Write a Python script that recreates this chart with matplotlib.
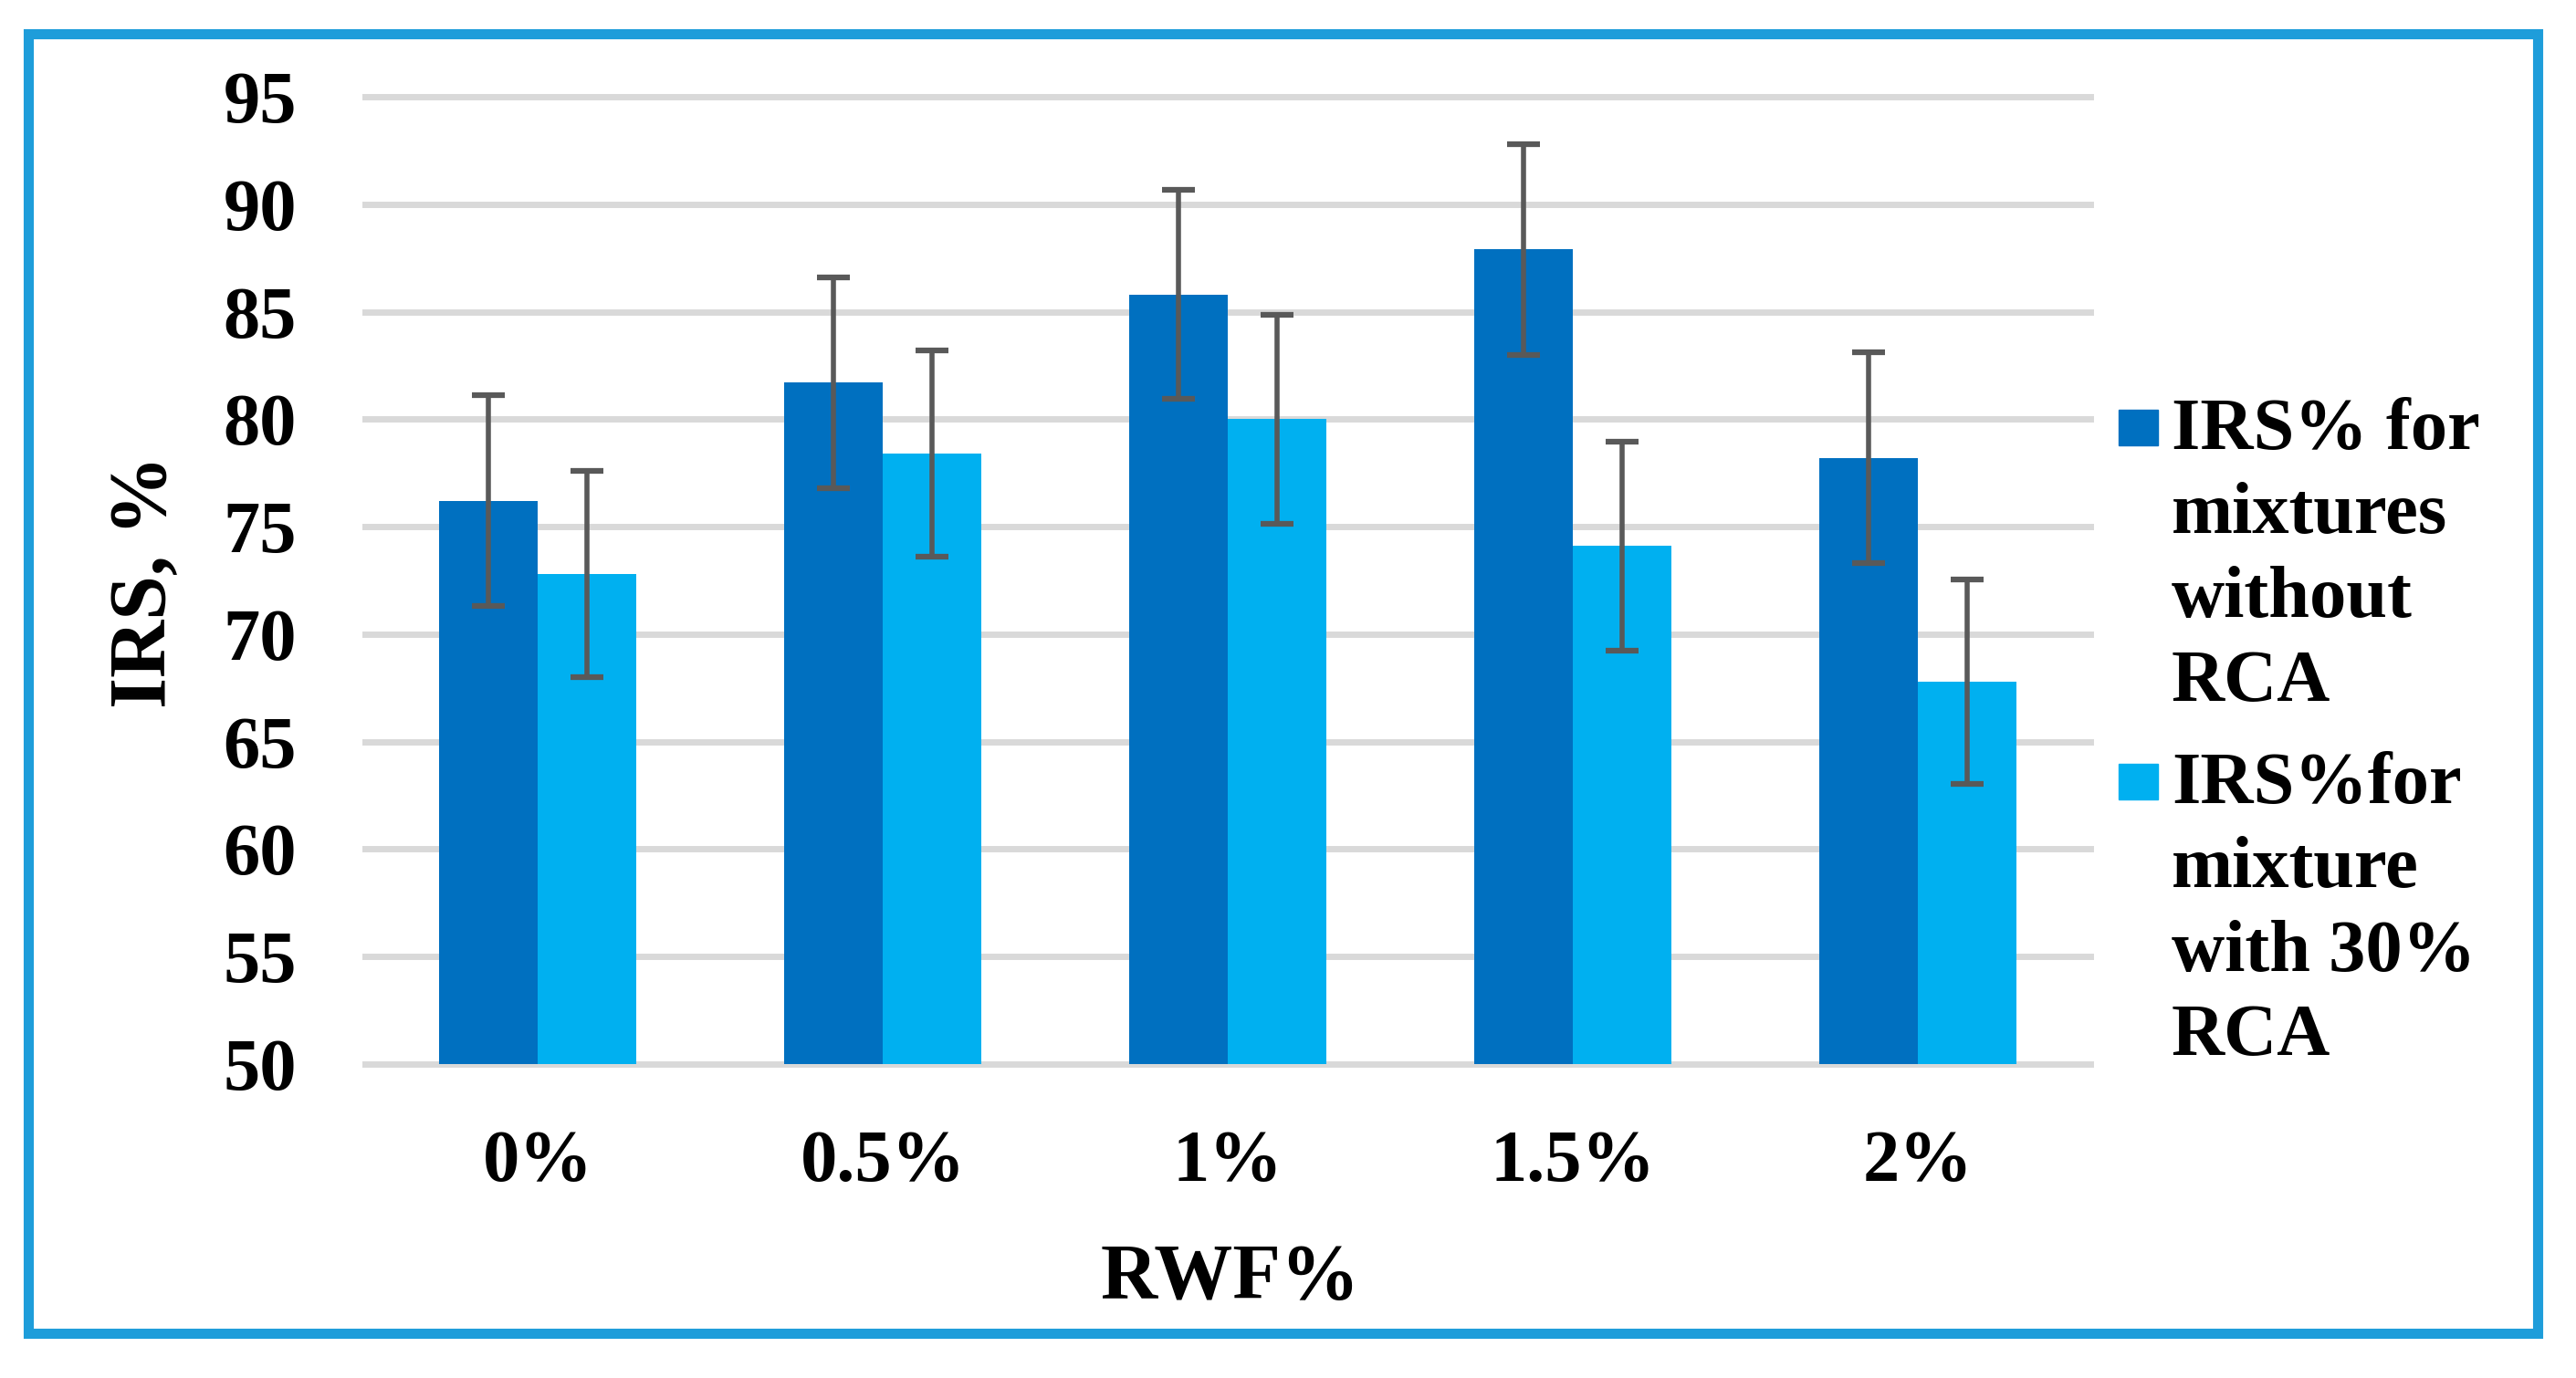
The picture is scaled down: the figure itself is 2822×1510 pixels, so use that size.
import numpy as np
import matplotlib
matplotlib.use("Agg")
import matplotlib.pyplot as plt
from matplotlib.patches import Rectangle

# data
categories = ["0%", "0.5%", "1%", "1.5%", "2%"]
irs_no_rca = [76.2, 81.7, 85.8, 87.9, 78.2]
irs_30_rca = [72.8, 78.4, 80.0, 74.1, 67.8]
err_no_rca = [4.9, 4.9, 4.85, 4.9, 4.9]
err_30_rca = [4.8, 4.8, 4.85, 4.85, 4.75]
labels = ["IRS% for\nmixtures\nwithout\nRCA", "IRS%for\nmixture\nwith 30%\nRCA"]
colors = ["#0070C0", "#00B0F0"]
yticks = [50, 55, 60, 65, 70, 75, 80, 85, 90, 95]

W, H = 2822, 1510
DPI = 100
plt.rcParams["font.family"] = ["Liberation Serif", "DejaVu Serif"]
plt.rcParams["font.weight"] = "bold"

fig = plt.figure(figsize=(W / DPI, H / DPI), dpi=DPI)

def fx(px):
    return px / W

def fy(py):
    return 1 - py / H

# axes box in pixels: left 400, right 2290, top 106, bottom 1166
ax = fig.add_axes([fx(400), fy(1166), fx(2290) - fx(400), fy(106) - fy(1166)])

x = np.arange(len(categories))
w = 0.286
ekw = dict(ecolor="#595959", elinewidth=4, capsize=13, capthick=4.5, zorder=4)
ax.bar(x - w / 2, irs_no_rca, w, yerr=err_no_rca, color=colors[0], error_kw=ekw, zorder=3)
ax.bar(x + w / 2, irs_30_rca, w, yerr=err_30_rca, color=colors[1], error_kw=ekw, zorder=3)

ax.set_xlim(-0.5, len(categories) - 0.5)
ax.set_ylim(50, 95)
ax.set_yticks(yticks)
ax.set_xticks(x)
ax.set_xticklabels(categories)
ax.tick_params(axis="both", length=0, labelsize=58)
ax.tick_params(axis="y", pad=54)
ax.tick_params(axis="x", pad=52)
for s in ax.spines.values():
    s.set_visible(False)
ax.grid(axis="y", color="#D9D9D9", linewidth=5, zorder=0)
ax.set_axisbelow(True)
for gl in ax.get_ygridlines():
    gl.set_clip_on(False)

fig.text(fx(160), fy(637), "IRS, %", rotation=90, ha="center", va="center", fontsize=63, fontweight="bold")
fig.text(fx(1348), fy(1423), "RWF%", ha="center", va="baseline", fontsize=62, fontweight="bold")

# legend drawn by hand to match the wrapped labels
first_baselines = [492, 880]
line_step = 92
for lab, col, b0 in zip(labels, colors, first_baselines):
    fig.add_artist(Rectangle((fx(2321), fy(b0 - 4)), fx(43), fy(0) - fy(39),
                             transform=fig.transFigure, color=col))
    for k, line in enumerate(lab.split("\n")):
        fig.text(fx(2379), fy(b0 + k * line_step), line, ha="left", va="baseline",
                 fontsize=58, fontweight="bold")

# blue outer frame
fig.add_artist(Rectangle((fx(31), fy(1461)), fx(2780) - fx(31), fy(37) - fy(1461),
                         transform=fig.transFigure, fill=False, ec="#1E9DDA", lw=8))

fig.savefig("out.png", dpi=DPI)
